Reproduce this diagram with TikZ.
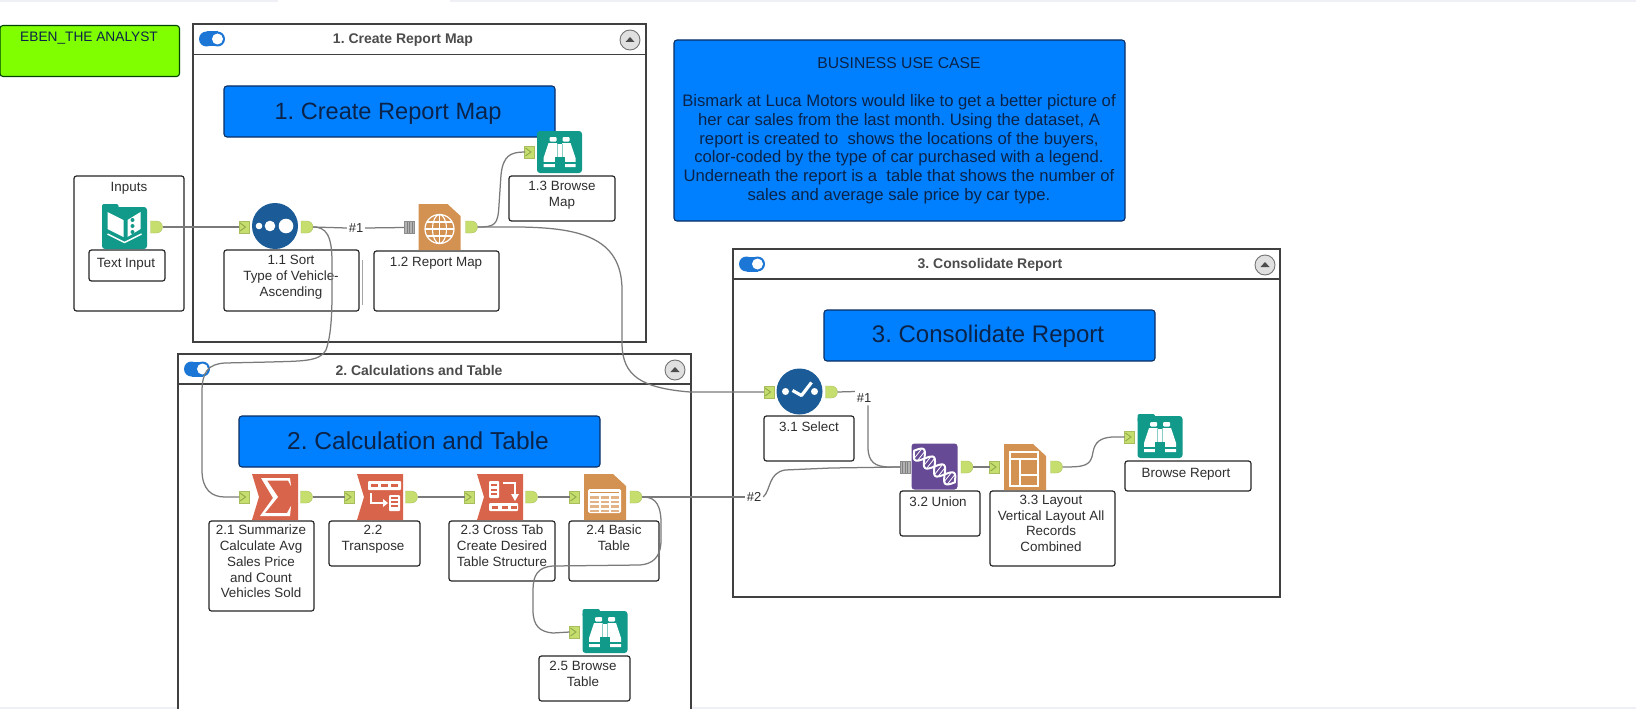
\documentclass[tikz,border=0pt]{standalone}
\usepackage{fontspec}
\setmainfont{Liberation Sans}
\usetikzlibrary{shapes.misc,calc}
\definecolor{lime}{HTML}{C6DE6E}
\definecolor{limed}{HTML}{8FA84A}
\definecolor{teal}{HTML}{11998A}
\definecolor{navy}{HTML}{1B5C98}
\definecolor{ora}{HTML}{D49252}
\definecolor{redd}{HTML}{D8654B}
\definecolor{purp}{HTML}{674A96}
\definecolor{boxblue}{HTML}{0080FF}
\definecolor{boxedge}{HTML}{0C2E63}
\definecolor{ink}{HTML}{2E2E2E}
\definecolor{blueink}{HTML}{0B2348}
\definecolor{togg}{HTML}{1C76D6}
\definecolor{strip}{HTML}{EEF0F5}
\tikzset{
 x=1pt,y=-1pt,
 every node/.style={inner sep=0pt,outer sep=0pt},
 grp/.style={draw=black!75,line width=1.4pt,fill=white,anchor=north west},
 bar/.style={draw=black!75,line width=1.4pt},
 lbl/.style={draw=black!85,line width=1.2pt,fill=white,rounded corners=2.5pt,anchor=north west},
 lbltext/.style={anchor=north,align=center,text=ink,font=\fontsize{13.4}{15.8}\selectfont},
 bluebox/.style={draw=boxedge,line width=1.1pt,fill=boxblue,rounded corners=3pt,anchor=north west},
 bluetext/.style={text=blueink},
 title/.style={text=black!70,font=\fontsize{14}{16}\selectfont\bfseries},
 hash/.style={text=ink,font=\fontsize{13}{15}\selectfont,inner sep=2pt},
 conn/.style={draw=black!52,line width=1.25pt,rounded corners=0pt},
 outa/.style={rounded rectangle,rounded rectangle west arc=none,fill=lime,draw=lime!85!black,line width=.3pt,minimum width=10pt,minimum height=12pt},
 ina/.style={rectangle,fill=lime,draw=lime!85!black,line width=.3pt,minimum width=10pt,minimum height=12pt,
   path picture={\draw[limed,line width=.9pt] ($(path picture bounding box.north west)+(1,2)$) -- ($(path picture bounding box.center)+(1.5,0)$) -- ($(path picture bounding box.south west)+(1,-2)$);}},
 multi/.style={rectangle,fill=black!30,draw=black!45,line width=.3pt,minimum width=10pt,minimum height=12pt,
   path picture={\foreach \d in {-2.5,0,2.5}{\draw[black!50,line width=.7pt] ($(path picture bounding box.north)+(\d,0)$) -- ($(path picture bounding box.south)+(\d,0)$);}}},
 toggle/.pic={
   \fill[togg] (-5.5,-7.5) rectangle (5.5,7.5);
   \fill[togg] (-5.5,0) circle (7.5);
   \fill[togg] (5.5,0) circle (7.5);
   \fill[white] (5.5,0) circle (5.5);
 },
 collapse/.pic={
   \draw[black!55,fill=black!12,line width=.9pt] (0,0) circle (10);
   \fill[black!70] (-4.5,2) -- (0,-3) -- (4.5,2) -- cycle;
 },
 binoc/.pic={
   \fill[teal,rounded corners=3pt] (-22.5,-21) rectangle (22.5,21);
   \fill[white,rounded corners=1pt] (-10,-15) rectangle (-3,-10.5);
   \fill[white,rounded corners=1pt] (3,-15) rectangle (10,-10.5);
   \fill[white] (-11,-9) -- (-2.5,-9) -- (-2.5,15) -- (-16,15) -- (-16,6) -- cycle;
   \fill[white] (11,-9) -- (2.5,-9) -- (2.5,15) -- (16,15) -- (16,6) -- cycle;
   \fill[white] (-2.5,-8) rectangle (2.5,6);
   \draw[teal!50!white,line width=.5pt] (-2.5,-8) -- (-2.5,5) (2.5,-8) -- (2.5,5);
   \fill[teal] (-5,5) rectangle (5,17);
   \fill[teal] (-17,10) rectangle (-5,11.5);
   \fill[teal] (17,10) rectangle (5,11.5);
 },
 tab/.pic={\fill[teal,rounded corners=2pt] (-22.5,-23) rectangle (-5,-15);},
 book/.pic={
   \fill[teal,rounded corners=3pt] (-22.5,-20) rectangle (22.5,22);
   \fill[teal,rounded corners=2pt] (-22.5,-23) rectangle (-6,-15);
   \fill[white] (-17,-15) -- (-1,-7) -- (-1,10) -- (-17,2) -- cycle;
   \fill[white] (3,-7) -- (16,-15) -- (16,2) -- (3,10) -- cycle;
   \draw[white,line width=1.5pt,line join=round] (-17,7) -- (0,15.5) -- (17,7);
   \fill[teal] (8,-7) circle (2); \fill[teal] (8,-1) circle (2); \fill[teal] (8,5) circle (2);
 },
 sorter/.pic={
   \fill[navy] (0,0) circle (23);
   \fill[white] (-16,0) circle (3.3);
   \fill[white] (-5,0) circle (5.3);
   \fill[white] (11,0) circle (7.3);
 },
 checker/.pic={
   \fill[navy] (0,0) circle (23);
   \fill[white] (-14,0) circle (3.5);
   \fill[white] (15,0) circle (3.5);
   \draw[white,line width=3.2pt,line join=round] (-7,-1) -- (2,4) -- (12,-9);
 },
 doc/.pic={
   \fill[ora] (-21,-23) -- (8,-23) -- (21,-11) -- (21,23) -- (-21,23) -- cycle;
 },
 globe/.pic={
   \draw[white,line width=1.2pt] (0,2) circle (14.5);
   \draw[white,line width=1.1pt] (0,2) ellipse (7 and 14.5);
   \draw[white,line width=1.1pt] (0,-12.5) -- (0,16.5);
   \draw[white,line width=1.1pt] (-14.5,2) -- (14.5,2);
   \draw[white,line width=1.1pt] (-12.5,-5) -- (12.5,-5);
   \draw[white,line width=1.1pt] (-12.5,9) -- (12.5,9);
 },
 tablet/.pic={
   \fill[white,rounded corners=1.5pt] (-17,-8) rectangle (16,16);
   \foreach \yy in {-1,3.5,8,12.5}{\fill[ora!70!white] (-15,\yy) rectangle (-6,{\yy+2.6}); \fill[ora!70!white] (-4.5,\yy) rectangle (4,{\yy+2.6}); \fill[ora!70!white] (5.5,\yy) rectangle (14,{\yy+2.6});}
   \fill[ora] (-15,-5.5) rectangle (14,-4.2);
 },
 layouter/.pic={
   \draw[white,line width=2.2pt] (-15,-15) rectangle (13,19);
   \draw[white,line width=2.2pt] (-15,-8) -- (13,-8);
   \draw[white,line width=2.2pt] (-5,-8) -- (-5,19);
   \draw[white,line width=2.2pt] (-5,8) -- (13,8);
 },
 redshape/.pic={
   \fill[redd] (-23,-23) -- (23,-23) -- (23,23) -- (-23,23) -- (-16,0) -- cycle;
 },
 sigma/.pic={
   \fill[white] (-14,-19) -- (15,-19) -- (16,-11) -- (13,-16.5) -- (-8,-16.5) -- (3,0) -- (-10,16) -- (12,16) -- (16,9) -- (15,19) -- (-15,19) -- (-2,1) -- cycle;
 },
 transp/.pic={
   \fill[white,rounded corners=1pt] (-12,-16) rectangle (21,-7);
   \foreach \d in {-9,1,11}{\fill[redd] (\d,-13) rectangle ({\d+7},-10);}
   \draw[white,line width=2pt] (-9,-4) -- (-9,6) -- (3,6);
   \fill[white] (3,2) -- (8,6) -- (3,10) -- cycle;
   \fill[white,rounded corners=1pt] (9,-2) rectangle (20,14);
   \foreach \d in {1,5,9}{\fill[redd] (11,{\d-.8}) rectangle (18,{\d+1});}
 },
 crosst/.pic={
   \fill[white,rounded corners=1pt] (-11,-16) rectangle (-1,1);
   \foreach \d in {-13,-8.5,-4}{\fill[redd] (-9,\d) rectangle (-3,{\d+2});}
   \draw[white,line width=2pt] (3,-14) -- (15,-14) -- (15,-3);
   \fill[white] (11,-3) -- (15,4) -- (19,-3) -- cycle;
   \fill[white,rounded corners=1pt] (-11,6) rectangle (18,14);
   \foreach \d in {-8,2,11}{\fill[redd] (\d,8.5) rectangle ({\d+6},11.5);}
 },
 dna/.pic={
   \fill[purp,rounded corners=3pt] (-23,-23) rectangle (23,23);
   \begin{scope}[rotate=-38]
   \draw[white,line width=2pt] plot[domain=-26:26,samples=41,smooth] (\x,{7*sin(\x*14)});
   \draw[white,line width=2pt] plot[domain=-26:26,samples=41,smooth] (\x,{-7*sin(\x*14)});
   \foreach \d in {-21,-17,-9,-5,5,9,17,21}{\draw[white,line width=.8pt] (\d,{-6*sin(\d*14)}) -- (\d,{6*sin(\d*14)});}
   \end{scope}
 },
}
\begin{document}
\frenchspacing
\begin{tikzpicture}
\useasboundingbox (0,0) rectangle (1636,709);
\fill[white] (0,0) rectangle (1636,709);
\fill[strip] (0,0) rectangle (278,2);
\fill[strip] (450,0) rectangle (1636,2);
\fill[strip] (0,707) rectangle (1636,709);

% free boxes
\node[anchor=north west,draw=black!55!green!60!black,line width=1.1pt,fill={rgb,255:red,128;green,255;blue,0},rounded corners=3pt,minimum width=179.5pt,minimum height=51pt] (eben) at (0,25.5) {};
\node[text=blueink,font=\fontsize{13.7}{16}\selectfont] (ebentext) at (89,38) {EBEN\_THE ANALYST};
\node[bluebox,minimum width=451pt,minimum height=181pt] (usecase) at (674,40) {};
\node[anchor=north,align=center,text=blueink,font=\fontsize{16.66}{18.7}\selectfont] (usetext) at (899,58) {{\fontsize{15.7}{18.7}\selectfont BUSINESS USE CASE}\\[19pt]Bismark at Luca Motors would like to get a better picture of\\her car sales from the last month. Using the dataset, A\\report is created to\ \ shows the locations of the buyers,\\color-coded by the type of car purchased with a legend.\\Underneath the report is a\ \ table that shows the number of\\sales and average sale price by car type.};

% Inputs container
\node[lbl,minimum width=110pt,minimum height=135pt] (inputs) at (74,176) {};
\node[lbltext] (inputstext) at (129,182) {Inputs};

% groups
\node[grp,minimum width=453pt,minimum height=318pt] (g1) at (193,24) {};
\draw[bar] (g1.north west |- 0,54.5) -- (g1.north east |- 0,54.5);
\node[title] (g1t) at (403,40) {1. Create Report Map};
\pic at (212,39) {toggle};
\pic at (630,40) {collapse};

\fill[white] (178,354) rectangle (691,709);
\draw[bar] (178,709) -- (178,354) -- (691,354) -- (691,709);
\draw[bar] (178,384) -- (691,384);
\node[title] (g2t) at (419,370) {2. Calculations and Table};
\pic at (197,369) {toggle};
\pic at (675,370) {collapse};

\node[grp,minimum width=547pt,minimum height=348pt] (g3) at (733,249) {};
\draw[bar] (g3.north west |- 0,279) -- (g3.north east |- 0,279);
\node[title] (g3t) at (990,265) {3. Consolidate Report};
\pic at (752,264) {toggle};
\pic at (1265,265) {collapse};

% blue titles
\node[bluebox,minimum width=331pt,minimum height=51pt] (b1) at (224,86) {};
\node[bluetext,font=\fontsize{23.6}{26}\selectfont] (b1t) at (388,113.5) {1. Create Report Map};
\node[bluebox,minimum width=361pt,minimum height=51pt] (b2) at (239,416) {};
\node[bluetext,font=\fontsize{24.5}{26}\selectfont] (b2t) at (418,440.5) {2. Calculation and Table};
\node[bluebox,minimum width=331pt,minimum height=51pt] (b3) at (824,310) {};
\node[bluetext,font=\fontsize{24}{26}\selectfont] (b3t) at (988,336.5) {3. Consolidate Report};

% label boxes
\node[lbl,minimum width=76pt,minimum height=31pt] (l0) at (89,250) {};
\node[lbltext] (l0t) at (126,258) {Text Input};
\draw[black!35,line width=1pt] (362,260) -- (362,305);
\node[lbl,minimum width=135pt,minimum height=61pt] (l11) at (224,250) {};
\node[lbltext] (l11t) at (291,255.5) {1.1 Sort\\Type of Vehicle-\\Ascending};
\node[lbl,minimum width=125pt,minimum height=60pt] (l12) at (374,251) {};
\node[lbltext] (l12t) at (436,257) {1.2 Report Map};
\node[lbl,minimum width=106pt,minimum height=45pt] (l13) at (509,176) {};
\node[lbltext] (l13t) at (562,181) {1.3 Browse\\Map};

\node[lbl,minimum width=105pt,minimum height=90pt] (l21) at (209,521) {};
\node[lbltext] (l21t) at (261,525) {2.1 Summarize\\Calculate Avg\\Sales Price\\and Count\\Vehicles Sold};
\node[lbl,minimum width=91pt,minimum height=45pt] (l22) at (329,521) {};
\node[lbltext] (l22t) at (373,525) {2.2\\Transpose};
\node[lbl,minimum width=106pt,minimum height=60pt] (l23) at (449,521) {};
\node[lbltext] (l23t) at (502,525) {2.3 Cross Tab\\Create Desired\\Table Structure};
\node[lbl,minimum width=90pt,minimum height=60pt] (l24) at (569,521) {};
\node[lbltext] (l24t) at (614,525) {2.4 Basic\\Table};
\node[lbl,minimum width=91pt,minimum height=45pt] (l25) at (539,656) {};
\node[lbltext] (l25t) at (583,661) {2.5 Browse\\Table};

\node[lbl,minimum width=90pt,minimum height=45pt] (l31) at (764,416) {};
\node[lbltext] (l31t) at (809,422) {3.1 Select};
\node[lbl,minimum width=80pt,minimum height=45pt] (l32) at (900,491) {};
\node[lbltext] (l32t) at (938,497) {3.2 Union};
\node[lbl,minimum width=125pt,minimum height=75pt] (l33) at (990,491) {};
\node[lbltext] (l33t) at (1051,495) {3.3 Layout\\Vertical Layout All\\Records\\Combined};
\node[lbl,minimum width=126pt,minimum height=30pt] (l34) at (1125,461) {};
\node[lbltext] (l34t) at (1186,468) {Browse Report};

% icons
\pic at (124.5,227) {book};
\pic at (275,226) {sorter};
\pic at (439.5,227) {doc};
\pic at (439.5,227) {globe};
\pic at (559.5,152) {binoc};
\pic at (275,497) {redshape};
\pic at (275,497) {sigma};
\pic at (380,497) {redshape};
\pic at (380,497) {transp};
\pic at (500,497) {redshape};
\pic at (500,497) {crosst};
\pic at (605,497) {doc};
\pic at (605,497) {tablet};
\pic at (605,632) {binoc};
\pic at (605,632) {tab};
\pic at (799.5,391.5) {checker};
\pic at (934.5,466.5) {dna};
\pic at (1025,467) {doc};
\pic at (1025,467) {layouter};
\pic at (1160,437) {binoc};
\pic at (1160,437) {tab};

% anchors
\node[outa] (textout) at (156.5,227) {};
\node[ina] (sortin) at (244,227) {};
\node[outa] (sortout) at (307,227) {};
\node[multi] (mapin) at (409.5,227.5) {};
\node[outa] (mapout) at (471.5,227) {};
\node[ina] (browse1in) at (529.5,152) {};
\node[ina] (sumin) at (244,497) {};
\node[outa] (sumout) at (306.5,497) {};
\node[ina] (trin) at (349.5,497) {};
\node[outa] (trout) at (411.5,497) {};
\node[ina] (crin) at (469.5,497) {};
\node[outa] (crout) at (531.5,497) {};
\node[ina] (tabin) at (574.5,497) {};
\node[outa] (tabout) at (636,497) {};
\node[ina] (browse2in) at (574.5,632) {};
\node[ina] (selin) at (769,392) {};
\node[outa] (selout) at (831.5,392) {};
\node[multi] (unionin) at (905,467) {};
\node[outa] (unionout) at (967,467) {};
\node[ina] (layin) at (994.5,467) {};
\node[outa] (layout) at (1056.5,467) {};
\node[ina] (browse3in) at (1129.5,437) {};

% hash labels
\node[hash] (h1) at (356,228) {\#1};
\node[hash] (h2) at (754,497) {\#2};
\node[hash] (h3) at (864,398) {\#1};

% connectors
\draw[conn] (textout.east) -- (sortin.west);
\draw[conn] (sortout.east) -- (h1.west);
\draw[conn] (h1.east) -- (mapin.west);
\draw[conn] (sortout.east) .. controls (326,227) and (332,235) .. (332,262) .. controls (332,300) and (333,330) .. (326,350) .. controls (320,362) and (300,361) .. (270,362) -- (225,363) .. controls (208,364) and (202,372) .. (202,392) -- (202,470) .. controls (202,490) and (212,497) .. (225,497) -- (sumin.west);
\draw[conn] (mapout.east) .. controls (495,227) and (498,225) .. (499,205) -- (501,175) .. controls (503,156) and (510,152) .. (525,152) -- (browse1in.west);
\draw[conn] (mapout.east) -- (520,227) .. controls (575,228) and (622,235) .. (622,290) -- (622,345) .. controls (623,375) and (640,388) .. (690,392) -- (selin.west);
\draw[conn] (sumout.east) -- (trin.west);
\draw[conn] (trout.east) -- (crin.west);
\draw[conn] (crout.east) -- (tabin.west);
\draw[conn] (tabout.east) -- (h2.west);
\draw[conn] (tabout.east) .. controls (652,497) and (660,500) .. (661,520) -- (661,540) .. controls (661,558) and (652,564) .. (640,565) -- (553,566) .. controls (538,567) and (533,575) .. (533,590) -- (533,610) .. controls (533,626) and (540,632) .. (553,633) -- (browse2in.west);
\draw[conn] (selout.east) -- (h3.north west);
\draw[conn] ($(h3.south)+(4,1)$) -- (868,447) .. controls (868,462) and (875,467) .. (890,467) -- (unionin.west);
\draw[conn] (h2.east) .. controls (771,490) and (768,473) .. (785,470) -- (831,468) -- (unionin.west);
\draw[conn] (unionout.east) -- (layin.west);
\draw[conn] (layout.east) .. controls (1085,467) and (1091,466) .. (1093,452) .. controls (1095,442) and (1100,438) .. (1112,437) -- (browse3in.west);
\end{tikzpicture}
\end{document}
